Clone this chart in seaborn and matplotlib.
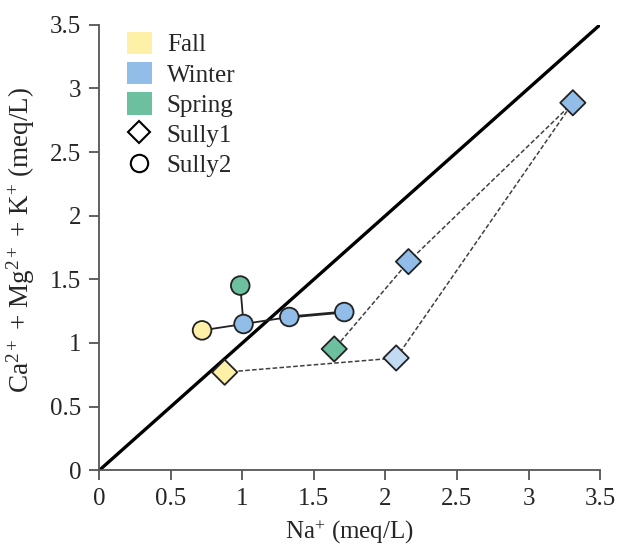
import matplotlib
matplotlib.use("Agg")
import matplotlib.pyplot as plt
import seaborn as sns
import pandas as pd
from matplotlib.patches import Patch
from matplotlib.lines import Line2D

# ---- data ----
s1_x = [0.876, 2.075, 3.31, 2.161, 1.642]
s1_y = [0.770, 0.882, 2.887, 1.639, 0.953]
s1_season = ["Fall", "Winter (late)", "Winter", "Winter", "Spring"]

s2_x = [0.718, 1.008, 0.985, 1.328, 1.712]
s2_y = [1.099, 1.149, 1.451, 1.204, 1.243]
s2_season = ["Fall", "Winter", "Spring", "Winter", "Winter"]
# connections between Sully2 points (index pairs)
s2_links = [(0, 1), (1, 2), (1, 3), (3, 4)]

ticks = [0, 0.5, 1, 1.5, 2, 2.5, 3, 3.5]
tick_labels = ["0", "0.5", "1", "1.5", "2", "2.5", "3", "3.5"]

colors = {"Fall": "#FFF0A8", "Winter": "#92BDE8", "Winter (late)": "#C2DBF3", "Spring": "#6CC0A0"}

sns.set_style("ticks")
plt.rcParams["font.family"] = ["Liberation Serif", "DejaVu Serif"]
plt.rcParams["mathtext.fontset"] = "custom"
plt.rcParams["mathtext.rm"] = "Liberation Serif"
plt.rcParams["mathtext.it"] = "Liberation Serif:italic"
plt.rcParams["mathtext.bf"] = "Liberation Serif:bold"

fig = plt.figure(figsize=(6.17, 5.5), dpi=100)
ax = fig.add_axes([0.161, 0.145, 0.8115, 0.81])

fs = 18

# 1:1 line
sns.lineplot(x=[0, 3.5], y=[0, 3.5], ax=ax, color="black", lw=2.4, sort=False, estimator=None)

# Sully1 dashed path
sns.lineplot(x=s1_x, y=s1_y, ax=ax, color="#404040", lw=1.1, ls=(0, (3, 1.5)),
             sort=False, estimator=None, zorder=2)

# Sully2 solid links
for i, j in s2_links:
    lw = 2.0 if (i, j) == (3, 4) else 1.3
    sns.lineplot(x=[s2_x[i], s2_x[j]], y=[s2_y[i], s2_y[j]], ax=ax, color="#222222",
                 lw=lw, sort=False, estimator=None, zorder=2)

df1 = pd.DataFrame({"x": s1_x, "y": s1_y, "season": s1_season})
df2 = pd.DataFrame({"x": s2_x, "y": s2_y, "season": s2_season})

sns.scatterplot(data=df1, x="x", y="y", hue="season", palette=colors, marker="D",
                s=165, edgecolor="#222222", linewidth=1.3, ax=ax, legend=False, zorder=3)
sns.scatterplot(data=df2, x="x", y="y", hue="season", palette=colors, marker="o",
                s=180, edgecolor="#222222", linewidth=1.3, ax=ax, legend=False, zorder=3)

ax.set_xlim(0, 3.5)
ax.set_ylim(0, 3.5)
ax.set_xticks(ticks)
ax.set_xticklabels(tick_labels, fontsize=fs)
ax.set_yticks(ticks)
ax.set_yticklabels(tick_labels, fontsize=fs)
ax.tick_params(direction="out", length=7, width=1.3, color="#555555", pad=6)
for side in ["top", "right"]:
    ax.spines[side].set_visible(False)
for side in ["left", "bottom"]:
    ax.spines[side].set_color("#555555")
    ax.spines[side].set_linewidth(1.3)

ax.set_xlabel("Na$^{+}$ (meq/L)", fontsize=fs, labelpad=6)
ax.set_ylabel("Ca$^{2+}$ + Mg$^{2+}$ + K$^{+}$ (meq/L)", fontsize=19.5)
ax.yaxis.set_label_coords(-0.124, 0.517)

handles = [
    Patch(facecolor=colors["Fall"], edgecolor="none", label="Fall"),
    Patch(facecolor=colors["Winter"], edgecolor="none", label="Winter"),
    Patch(facecolor=colors["Spring"], edgecolor="none", label="Spring"),
    Line2D([], [], marker="D", ls="none", markerfacecolor="white", markeredgecolor="black",
           markersize=11, markeredgewidth=1.5, label="Sully1"),
    Line2D([], [], marker="o", ls="none", markerfacecolor="white", markeredgecolor="black",
           markersize=12.5, markeredgewidth=1.5, label="Sully2"),
]
ax.legend(handles=handles, loc="upper left", bbox_to_anchor=(0.01, 1.035), frameon=False,
          fontsize=fs, handlelength=1.0, handleheight=1.0, labelspacing=0.22, handletextpad=0.6)

fig.savefig("out.png", dpi=100)
